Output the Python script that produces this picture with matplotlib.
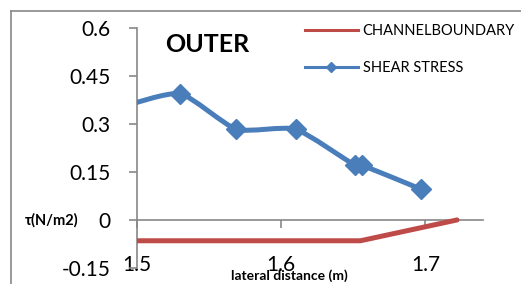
import matplotlib
matplotlib.use("Agg")
import matplotlib.pyplot as plt
from matplotlib.path import Path
from matplotlib.patches import PathPatch
from matplotlib.lines import Line2D
import numpy as np

plt.rcParams['font.family'] = ['Lato', 'DejaVu Sans']

# Data
shear_x = [1.49, 1.530, 1.569, 1.610, 1.651, 1.656, 1.697]
shear_y = [0.354, 0.394, 0.283, 0.283, 0.171, 0.171, 0.096]
boundary_x = [1.45, 1.655, 1.722]
boundary_y = [-0.065, -0.065, 0.0]
x_ticks = [1.5, 1.6, 1.7]
y_ticks = [-0.15, 0, 0.15, 0.3, 0.45, 0.6]
y_ticklabels = ['-0.15', '0', '0.15', '0.3', '0.45', '0.6']

BLUE = '#4A7EBB'
RED = '#BE4B48'
GRAY = '#888888'

W, H = 521, 284
fig = plt.figure(figsize=(W / 100, H / 100), dpi=100)
ax = fig.add_axes([137 / W, 1 - 268 / H, (483 - 137) / W, (268 - 27.7) / H])
ax.set_xlim(1.5, 1.74)
ax.set_ylim(-0.15, 0.6)

# outer chart frame
fig.add_artist(Line2D([11 / W, 11 / W], [0, 1 - 11 / H], transform=fig.transFigure, color=GRAY, lw=1.2))
fig.add_artist(Line2D([11 / W, 1], [1 - 11 / H, 1 - 11 / H], transform=fig.transFigure, color=GRAY, lw=1.2))

# channel boundary
ax.plot(boundary_x, boundary_y, color=RED, lw=3.6, solid_capstyle='round', zorder=3,
        label='CHANNELBOUNDARY', clip_on=True)


# smooth line (Excel-style bezier) for shear stress
def smooth_path(xs, ys, tension=0.1):
    xs = np.asarray(xs, float)
    ys = np.asarray(ys, float)
    n = len(xs)
    verts = [(xs[0], ys[0])]
    codes = [Path.MOVETO]
    for i in range(n - 1):
        p0 = np.array([xs[max(i - 1, 0)], ys[max(i - 1, 0)]])
        p1 = np.array([xs[i], ys[i]])
        p2 = np.array([xs[i + 1], ys[i + 1]])
        p3 = np.array([xs[min(i + 2, n - 1)], ys[min(i + 2, n - 1)]])
        c1 = p1 + (p2 - p0) * tension
        c2 = p2 - (p3 - p1) * tension
        verts += [tuple(c1), tuple(c2), tuple(p2)]
        codes += [Path.CURVE4] * 3
    return Path(verts, codes)


patch = PathPatch(smooth_path(shear_x, shear_y), facecolor='none', edgecolor=BLUE,
                  lw=3.6, capstyle='round', joinstyle='round', zorder=4, transform=ax.transData)
ax.add_patch(patch)
ax.plot(shear_x, shear_y, linestyle='none', marker='D', markersize=10, color=BLUE, zorder=5)

# legend
handles = [Line2D([], [], color=RED, lw=2.2),
           Line2D([], [], color=BLUE, lw=2.2, marker='D', markersize=5)]
leg = fig.legend(handles, ['CHANNELBOUNDARY', 'SHEAR STRESS'], loc='upper left',
                 bbox_to_anchor=(305 / W, 1 - 24 / H), frameon=False, fontsize=10.5,
                 handlelength=3.6, handletextpad=0.35, labelspacing=1.55, borderpad=0,
                 borderaxespad=0)

# axes styling
for s in ['top', 'right']:
    ax.spines[s].set_visible(False)
ax.spines['left'].set_color(GRAY)
ax.spines['bottom'].set_color(GRAY)
ax.spines['bottom'].set_position(('data', 0))
ax.spines['left'].set_linewidth(1.2)
ax.spines['bottom'].set_linewidth(1.2)

ax.set_xticks(x_ticks)
ax.set_xticklabels([f'{v:.1f}' for v in x_ticks])
ax.set_yticks(y_ticks)
ax.set_yticklabels(y_ticklabels)
ax.tick_params(axis='x', direction='out', length=6, width=1.2, color=GRAY, pad=19, labelsize=15)
ax.tick_params(axis='y', direction='out', length=6, width=1.2, color=GRAY, pad=13, labelsize=15)

ax.text(165 / W, 1 - 45 / H, 'OUTER', transform=fig.transFigure, fontsize=18, fontweight='bold',
        ha='left', va='center')
ax.text(-0.324, 0, 'τ(N/m2)', transform=ax.get_yaxis_transform(), fontsize=10.5, fontweight='bold',
        ha='left', va='center')
fig.text(289 / W, 1 - 276 / H, 'lateral distance (m)', fontsize=10, fontweight='bold',
         ha='center', va='center')

fig.savefig('out.png', dpi=100)
